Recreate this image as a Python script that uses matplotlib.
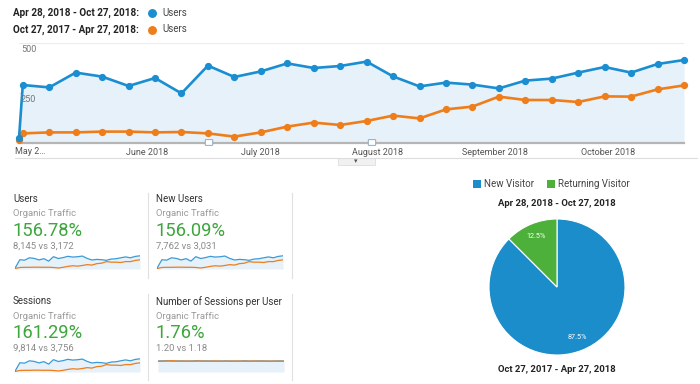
import matplotlib
matplotlib.use('Agg')
import matplotlib.pyplot as plt
import matplotlib.dates as mdates
from matplotlib.patches import Rectangle, FancyBboxPatch
from matplotlib.lines import Line2D
import datetime as dt

plt.rcParams['font.family'] = ['Roboto', 'DejaVu Sans']

# ---------------- data ----------------
week_dates = ['2018-04-28', '2018-04-29', '2018-05-06', '2018-05-13', '2018-05-20',
              '2018-05-27', '2018-06-03', '2018-06-10', '2018-06-17', '2018-06-24',
              '2018-07-01', '2018-07-08', '2018-07-15', '2018-07-22', '2018-07-29',
              '2018-08-05', '2018-08-12', '2018-08-19', '2018-08-26', '2018-09-02',
              '2018-09-09', '2018-09-16', '2018-09-23', '2018-09-30', '2018-10-07',
              '2018-10-14', '2018-10-21']
users_current = [23, 290, 278, 352, 332, 285, 325, 248, 387, 330, 358, 398, 375, 385,
                 407, 333, 283, 302, 292, 273, 312, 322, 352, 380, 352, 395, 415]
users_previous = [15, 48, 53, 53, 57, 57, 53, 55, 48, 32, 53, 82, 102, 90,
                  110, 137, 123, 168, 182, 232, 215, 215, 205, 233, 232, 268, 288]

month_ticks = ['2018-06-01', '2018-07-01', '2018-08-01', '2018-09-01', '2018-10-01']
month_labels = ['June 2018', 'July 2018', 'August 2018', 'September 2018', 'October 2018']
y_ticks = [250, 500]

period_current = 'Apr 28, 2018 - Oct 27, 2018'
period_previous = 'Oct 27, 2017 - Apr 27, 2018'
metric_name = 'Users'

card_titles = ['Users', 'New Users', 'Sessions', 'Number of Sessions per User']
card_segment = 'Organic Traffic'
card_changes = ['156.78%', '156.09%', '161.29%', '1.76%']
card_compare = ['8,145 vs 3,172', '7,762 vs 3,031', '9,814 vs 3,756', '1.20 vs 1.18']

spu_current = [1.20, 1.21, 1.22, 1.19, 1.20, 1.21, 1.19, 1.20, 1.22, 1.20, 1.21, 1.20, 1.19,
               1.20, 1.21, 1.20, 1.19, 1.20, 1.22, 1.19, 1.20, 1.21, 1.20, 1.19, 1.20, 1.21, 1.20]
spu_previous = [1.17, 1.18, 1.20, 1.23, 1.19, 1.18, 1.20, 1.18, 1.19, 1.20, 1.18, 1.19, 1.20,
                1.18, 1.19, 1.18, 1.20, 1.19, 1.18, 1.19, 1.20, 1.18, 1.19, 1.18, 1.19, 1.18, 1.18]

pie_labels = ['New Visitor', 'Returning Visitor']
pie_values = [87.5, 12.5]

# ---------------- style ----------------
BLUE = '#1a8ed0'
ORANGE = '#ef7d1a'
FILL = '#e6f1f9'
GREEN = '#3da63c'
PIE_BLUE = '#1b8dcb'
PIE_GREEN = '#4db03a'

W, H = 700, 384
fig = plt.figure(figsize=(W / 100, H / 100), dpi=100)
fig.patch.set_facecolor('white')


def box(x0, y0, x1, y1):
    return [x0 / W, 1 - y1 / H, (x1 - x0) / W, (y1 - y0) / H]


def fx(x):
    return x / W


def fy(y):
    return 1 - y / H


def ftext(x, y, s, **kw):
    fig.text(fx(x), fy(y), s, **kw)


# ---------------- legend at top ----------------
ftext(13, 13, period_current + ':', fontsize=7.1, fontweight='bold', color='#222222', va='center')
ftext(13, 29.5, period_previous + ':', fontsize=7.1, fontweight='bold', color='#222222', va='center')
fig.lines.append(Line2D([fx(152)], [fy(13)], marker='o', ms=5.4, color=BLUE, transform=fig.transFigure))
fig.lines.append(Line2D([fx(152)], [fy(29.5)], marker='o', ms=5.4, color=ORANGE, transform=fig.transFigure))
ftext(162, 13, metric_name, fontsize=7.0, color='#444444', va='center')
ftext(162, 29.5, metric_name, fontsize=7.0, color='#444444', va='center')

# ---------------- main chart ----------------
xd = [dt.datetime.strptime(d, '%Y-%m-%d') for d in week_dates]
ax = fig.add_axes(box(19, 43, 684, 143))
ax.set_xlim(xd[0], xd[-1])
ax.set_ylim(0, 500)
ax.fill_between(xd, users_current, 0, color=FILL, zorder=1, lw=0)
for yt in y_ticks:
    ax.axhline(yt, color='#ececec', lw=0.8, zorder=0.5)
ax.plot(xd, users_previous, color=ORANGE, lw=1.9, marker='o', ms=4.2, zorder=3, clip_on=False)
ax.plot(xd, users_current, color=BLUE, lw=1.9, marker='o', ms=4.2, zorder=4, clip_on=False)
for s in ['top', 'right', 'left']:
    ax.spines[s].set_visible(False)
ax.spines['bottom'].set_color('#b5b5b5')
ax.spines['bottom'].set_linewidth(1.6)
ax.set_yticks([])
mt = [dt.datetime.strptime(d, '%Y-%m-%d') for d in month_ticks]
ax.set_xticks(mt)
ax.set_xticklabels(month_labels, fontsize=6.5, color='#555555')
ax.tick_params(axis='x', length=0, pad=3.3)
for yt in y_ticks:
    ax.text(0.003, yt - 8, str(yt), transform=ax.get_yaxis_transform(), fontsize=6.6,
            color='#777777', va='top', ha='left', zorder=5)
ftext(15, 152, 'May 2…', fontsize=6.5, color='#555555', va='center')

# annotation markers on axis
for px in [209, 372]:
    fig.patches.append(FancyBboxPatch((fx(px - 3), fy(145)), 6 / W, 5 / H,
                                      boxstyle='round,pad=0.001', transform=fig.transFigure,
                                      facecolor='white', edgecolor='#8fa9c2', lw=0.7, zorder=10))

# separator line + tab
fig.lines.append(Line2D([fx(15), fx(697)], [fy(158), fy(158)], color='#dddddd', lw=0.8,
                        transform=fig.transFigure))
fig.patches.append(Rectangle((fx(338), fy(165)), 37 / W, 7 / H, transform=fig.transFigure,
                             facecolor='#f1f1f1', edgecolor='#dddddd', lw=0.6))
ftext(356, 161, '▾', fontsize=5, color='#555555', ha='center', va='center',
      family=['DejaVu Sans'])

# ---------------- scorecards ----------------
cols = [13, 156]
rows = [199, 301.5]
spark_boxes = [(15, 255, 140, 269), (157, 255, 283, 269), (15, 358, 140, 372), (158, 358, 284, 372)]
spark_data = [(users_current, users_previous), (users_current, users_previous),
              (users_current, users_previous), (spu_current, spu_previous)]
spark_ylim = [440, 440, 440, 1.53]

for i in range(4):
    cx = cols[i % 2]
    ry = rows[i // 2]
    ftext(cx, ry, card_titles[i], fontsize=7.0, color='#333333', va='center')
    ftext(cx, ry + 15, card_segment, fontsize=6.8, color='#9a9a9a', va='center')
    ftext(cx - 0.5, ry + 31.5, card_changes[i], fontsize=13.2, color=GREEN, va='center')
    ftext(cx, ry + 47, card_compare[i], fontsize=6.8, color='#8a8a8a', va='center')
    sa = fig.add_axes(box(*spark_boxes[i]))
    cur, prev = spark_data[i]
    xi = list(range(len(cur)))
    sa.fill_between(xi, cur, 0, color=FILL, lw=0)
    if i == 3:
        sa.plot(xi, cur, color='#3a9ad6', lw=0.9)
        sa.plot(xi, prev, color=ORANGE, lw=0.9)
    else:
        sa.plot(xi, prev, color=ORANGE, lw=0.9)
        sa.plot(xi, cur, color='#3a9ad6', lw=0.9)
    sa.set_xlim(0, len(cur) - 1)
    sa.set_ylim(0, spark_ylim[i])
    sa.axis('off')

# dividers
for x in [148, 292]:
    for (y0, y1) in [(193, 278), (294, 380)]:
        fig.lines.append(Line2D([fx(x), fx(x)], [fy(y0), fy(y1)], color='#e0e0e0', lw=0.8,
                                transform=fig.transFigure))

# ---------------- pie ----------------
fig.patches.append(Rectangle((fx(473), fy(188)), 8 / W, 8 / H, transform=fig.transFigure,
                             facecolor=PIE_BLUE, edgecolor='none'))
ftext(484, 184, pie_labels[0], fontsize=7.0, color='#444444', va='center')
fig.patches.append(Rectangle((fx(547), fy(188)), 8 / W, 8 / H, transform=fig.transFigure,
                             facecolor=PIE_GREEN, edgecolor='none'))
ftext(558, 184, pie_labels[1], fontsize=7.0, color='#444444', va='center')
ftext(557, 203, period_current, fontsize=6.8, fontweight='bold', color='#222222', ha='center', va='center')
ftext(557, 370, period_previous, fontsize=6.8, fontweight='bold', color='#222222', ha='center', va='center')

r = 68
pa = fig.add_axes(box(557 - r, 287 - r, 557 + r, 287 + r))
wedges, texts, autotexts = pa.pie(pie_values, colors=[PIE_BLUE, PIE_GREEN], startangle=135,
                                  counterclock=True, autopct='%.1f%%', pctdistance=0.8,
                                  wedgeprops=dict(edgecolor='white', linewidth=0.8),
                                  textprops=dict(color='white', fontsize=5.2))
pa.set_aspect('equal')
pa.set_xlim(-1, 1)
pa.set_ylim(-1, 1)

fig.savefig('out.png', dpi=100, facecolor='white')
